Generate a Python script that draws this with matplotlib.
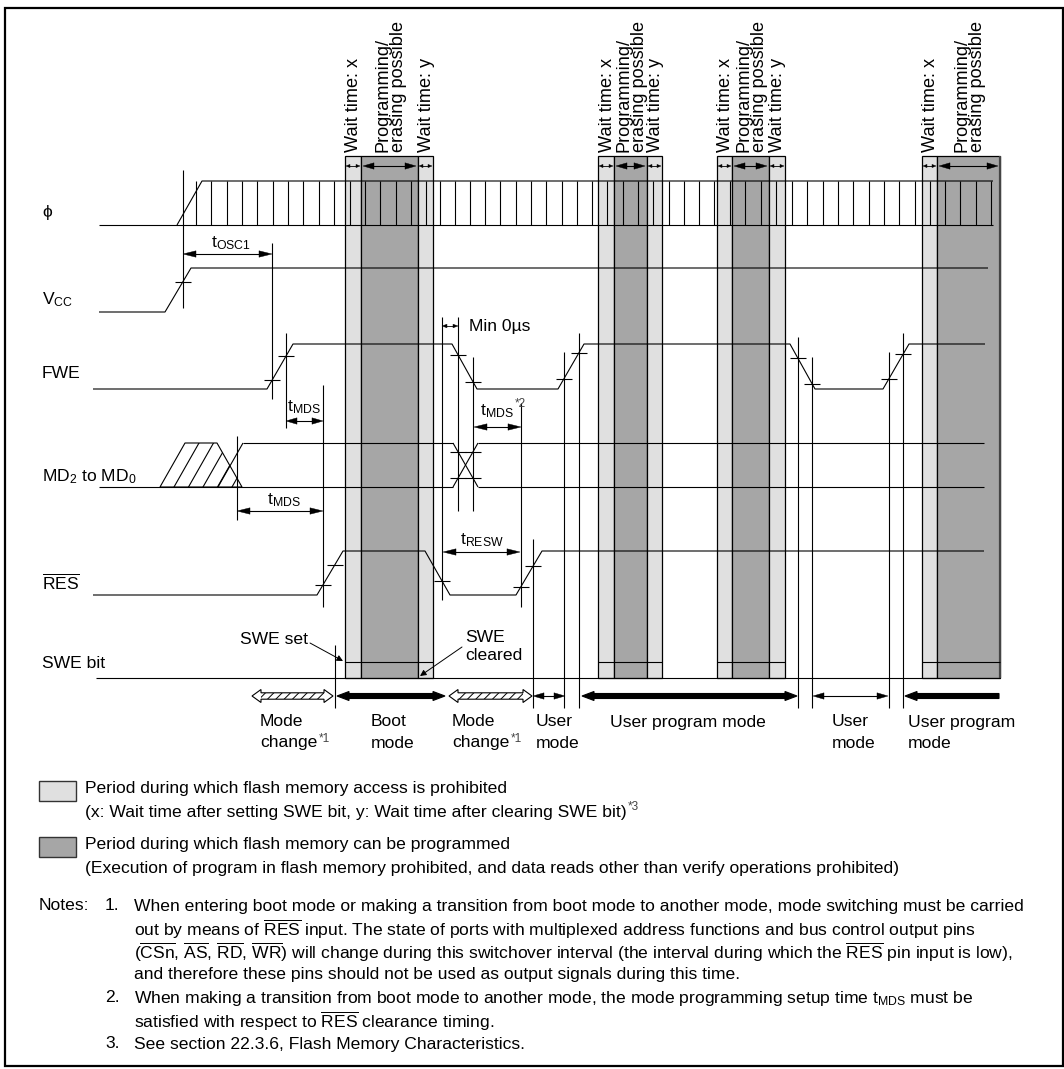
import numpy as np
import matplotlib.pyplot as plt
from matplotlib.patches import Rectangle, Polygon

plt.rcParams['font.family'] = ['Liberation Sans', 'DejaVu Sans']
plt.rcParams['mathtext.fontset'] = 'custom'
plt.rcParams['mathtext.rm'] = 'Liberation Sans'
plt.rcParams['mathtext.it'] = 'Liberation Sans:italic'
plt.rcParams['mathtext.bf'] = 'Liberation Sans:bold'
plt.rcParams['hatch.linewidth'] = 0.7

# ---------------- data (time axis in drawing units) ----------------
row_labels = ['ϕ', r'V$_{\mathrm{CC}}$', 'FWE', r'MD$_{2}$ to MD$_{0}$',
              r'$\overline{\mathrm{RES}}$', 'SWE bit']

phi_t = [99, 177, 202, 993]          # start, clock ramp start/end, end
phi_clock = [196, 211, 227, 242, 257, 273, 288, 303, 319, 334, 350, 365, 380,
             396, 411, 426, 440, 455, 470, 485, 500, 516, 531, 546, 562, 577,
             592, 607, 623, 638, 653, 669, 684, 699, 714, 730, 745, 761, 776,
             792, 807, 823, 838, 853, 869, 884, 899, 915, 930, 945, 960, 976, 991]

vcc_t = [99, 165, 191, 988]
vcc_v = [0, 0, 1, 1]

fwe_t = [93, 267, 293, 452, 477, 558, 584, 790, 815, 883, 909, 985]
fwe_v = [0, 0, 1, 1, 0, 0, 1, 1, 0, 0, 1, 1]

md_start, md_end = 99, 984
md_undef = [160, 185, 217, 242]      # undefined (hatched) window
md_valid = [218, 243]                # edge into valid state
md_switch = [453, 478]               # mode pins change

res_t = [93, 317, 343, 425, 450, 516, 542, 984]
res_v = [0, 0, 1, 1, 0, 0, 1, 1]

swe_t = [96, 1000]

# SWE windows: wait x start, programming start, programming end, wait y end
wait_x_on = [345, 598, 717, 922]
prog_on = [361, 614, 732, 937]
prog_off = [418, 647, 769, 1000]
wait_y_off = [433, 662, 785, None]

# timing guide lines: x, top, bottom
guide_x = [183, 272, 286, 323, 237, 335, 442, 458, 473, 521, 533, 564, 579, 798, 812, 889, 903]
guide_top = [170, 243, 333, 385, 436, 645, 317, 317, 357, 403, 539, 352, 333, 337, 357, 352, 333]
guide_bot = [308, 399, 428, 607, 520, 708, 600, 511, 511, 607, 708, 708, 708, 708, 708, 708, 708]

vcc_marks = [183]
fwe_marks = [272, 286, 458, 473, 564, 579, 798, 812, 889, 903]
res_marks = [323, 335, 442, 521, 533]
md_marks = [458, 473]

# mode bar: start, end, kind
mode_start = [252, 337, 449, 533, 582, 813, 905]
mode_end = [333, 445, 532, 565, 797, 888, 999]
mode_kind = ['change', 'boot', 'change', 'user', 'prog', 'user', 'prog_open']
mode_text1 = ['Mode', 'Boot', 'Mode', 'User', 'User program mode', 'User', 'User program']
mode_text2 = ['change', 'mode', 'change', 'mode', '', 'mode', 'mode']
mode_note = ['*1', '', '*1', '', '', '', '']

legend_text = [
    ['Period during which flash memory access is prohibited',
     '(x: Wait time after setting SWE bit, y: Wait time after clearing SWE bit)'],
    ['Period during which flash memory can be programmed',
     '(Execution of program in flash memory prohibited, and data reads other than verify operations prohibited)'],
]

notes_num = ['1.', '2.', '3.']
notes_lines = [
    ['When entering boot mode or making a transition from boot mode to another mode, mode switching must be carried',
     r'out by means of $\overline{\mathrm{RES}}$ input. The state of ports with multiplexed address functions and bus control output pins',
     r'($\overline{\mathrm{CSn}}$, $\overline{\mathrm{AS}}$, $\overline{\mathrm{RD}}$, $\overline{\mathrm{WR}}$) will change during this switchover interval (the interval during which the $\overline{\mathrm{RES}}$ pin input is low),',
     'and therefore these pins should not be used as output signals during this time.'],
    [r'When making a transition from boot mode to another mode, the mode programming setup time t$_{\mathrm{MDS}}$ must be',
     r'satisfied with respect to $\overline{\mathrm{RES}}$ clearance timing.'],
    ['See section 22.3.6, Flash Memory Characteristics.'],
]

# ---------------- layout ----------------
row_label_y = [213, 300, 373, 477, 582, 663]
row_high = [181, 268, 344, 443, 551, 662]
row_low = [225, 312, 389, 487, 595, 678]
band_top = 156
FS = 12.6
FS_ROT = 13.1
LW = 0.8
K = 'black'
LIGHT = '#e0e0e0'
DARK = '#a6a6a6'

fig = plt.figure(figsize=(10.64, 10.69), dpi=100)
ax = fig.add_axes([0, 0, 1, 1])
ax.set_xlim(0, 1064)
ax.set_ylim(1069, 0)
ax.axis('off')
renderer = fig.canvas.get_renderer()


def seg(xs, ys, lw=LW, z=3, color=K):
    ax.plot(xs, ys, color=color, lw=lw, solid_capstyle='butt', zorder=z)


def tri(xtip, y, direction, hl, hw, z=4):
    xb = xtip - direction * hl
    ax.add_patch(Polygon([(xtip, y), (xb, y - hw), (xb, y + hw)], closed=True,
                         fc=K, ec=K, lw=0.3, zorder=z))


def dim_arrow(x0, x1, y, hl=10, hw=3, lw=LW, left=True, right=True):
    seg([x0 + (hl * 0.8 if left else 0), x1 - (hl * 0.8 if right else 0)], [y, y], lw=lw, z=4)
    if left:
        tri(x0, y, -1, hl, hw)
    if right:
        tri(x1, y, 1, hl, hw)


def block_arrow(x0, x1, y, sh, hh, hl, left=True, right=True, fc=K, z=4):
    pts = []
    if left:
        pts += [(x0, y), (x0 + hl, y - hh), (x0 + hl, y - sh)]
    else:
        pts += [(x0, y + sh), (x0, y - sh)]
    if right:
        pts += [(x1 - hl, y - sh), (x1 - hl, y - hh), (x1, y), (x1 - hl, y + hh), (x1 - hl, y + sh)]
    else:
        pts += [(x1, y - sh), (x1, y + sh)]
    if left:
        pts += [(x0 + hl, y + sh), (x0 + hl, y + hh)]
    ax.add_patch(Polygon(pts, closed=True, fc=fc, ec=K, lw=0.8, zorder=z))


def sup_after(t, s, dy=3, size=8.5, color='#444444'):
    bb = t.get_window_extent(renderer=renderer)
    x, y = ax.transData.inverted().transform((bb.x1, bb.y1))
    ax.text(x + 1, y + dy, s, fontsize=size, color=color, ha='left', va='center', zorder=6)


def wave(ts, vs, row):
    ys = [row_high[row] if v else row_low[row] for v in vs]
    seg(ts, ys)
    return ys


# frame
ax.add_patch(Rectangle((5, 8), 1058, 1058, fc='none', ec=K, lw=1.6, zorder=10))

# SWE windows (bands)
for i in range(len(wait_x_on)):
    ax.add_patch(Rectangle((wait_x_on[i], band_top), prog_on[i] - wait_x_on[i],
                           row_low[5] - band_top, fc=LIGHT, ec=K, lw=0.9, zorder=1))
    ax.add_patch(Rectangle((prog_on[i], band_top), prog_off[i] - prog_on[i],
                           row_low[5] - band_top, fc=DARK, ec=K, lw=0.9, zorder=1))
    end = prog_off[i]
    if wait_y_off[i] is not None:
        ax.add_patch(Rectangle((prog_off[i], band_top), wait_y_off[i] - prog_off[i],
                               row_low[5] - band_top, fc=LIGHT, ec=K, lw=0.9, zorder=1))
        end = wait_y_off[i]
    else:
        seg([end, end], [band_top, row_low[5]], lw=1.6, color='#444444', z=2)
    # SWE high level across the window
    seg([wait_x_on[i], end], [row_high[5], row_high[5]])
    # period arrows at top of the window
    ya = band_top + 10
    dim_arrow(wait_x_on[i] + 1, prog_on[i] - 1, ya, hl=4, hw=1.6, lw=0.6)
    dim_arrow(prog_on[i] + 2, prog_off[i] - 2, ya, hl=11, hw=3.2)
    if wait_y_off[i] is not None:
        dim_arrow(prog_off[i] + 1, wait_y_off[i] - 1, ya, hl=4, hw=1.6, lw=0.6)
    # rotated labels
    ax.text((wait_x_on[i] + prog_on[i]) / 2 + 1, 152, 'Wait time: x', rotation=90,
            fontsize=FS_ROT, ha='center', va='bottom')
    ax.text((prog_on[i] + prog_off[i]) / 2 + 1, 152, 'Programming/\nerasing possible', rotation=90,
            fontsize=FS_ROT, ha='center', va='bottom', multialignment='left', linespacing=0.92)
    if wait_y_off[i] is not None:
        ax.text((prog_off[i] + wait_y_off[i]) / 2 + 1, 152, 'Wait time: y', rotation=90,
                fontsize=FS_ROT, ha='center', va='bottom')

# row labels
for lab, y in zip(row_labels, row_label_y):
    ax.text(42, y, lab, fontsize=FS, ha='left', va='center')

# phi clock
seg([phi_t[0], phi_t[-1]], [row_low[0], row_low[0]])
seg([phi_t[1], phi_t[2], phi_t[3]], [row_low[0], row_high[0], row_high[0]])
for x in phi_clock:
    seg([x, x], [row_high[0], row_low[0]])

# Vcc, FWE, RES
vcc_y = wave(vcc_t, vcc_v, 1)
fwe_y = wave(fwe_t, fwe_v, 2)
res_y = wave(res_t, res_v, 4)

# MD2..MD0 (bus)
hi, lo = row_high[3], row_low[3]
seg([md_start, md_switch[0]], [lo, lo])
seg([md_valid[1], md_switch[0]], [hi, hi])
seg([md_switch[1], md_end], [lo, lo])
seg([md_switch[1], md_end], [hi, hi])
seg(md_valid, [lo, hi])
seg(md_switch, [hi, lo])
seg(md_switch, [lo, hi])
und = Polygon([(md_undef[0], lo), (md_undef[1], hi), (md_undef[2], hi), (md_undef[3], lo)],
              closed=True, fc='none', ec=K, lw=LW, zorder=3)
ax.add_patch(und)
slope = (md_undef[1] - md_undef[0]) / (lo - hi)
for xb in np.arange(md_undef[0] + 14, md_undef[3] + 30, 14.5):
    ln, = ax.plot([xb, xb + slope * (lo - hi)], [lo, hi], color=K, lw=LW, zorder=3)
    ln.set_clip_path(und)

# SWE bit low level
seg(swe_t, [row_low[5], row_low[5]])

# guide lines
for x, t, b in zip(guide_x, guide_top, guide_bot):
    seg([x, x], [t, b])


# crossing marks
def mark(x, y, half=8):
    seg([x - half, x + half], [y, y])


for x in vcc_marks:
    mark(x, np.interp(x, vcc_t, vcc_y))
for x in fwe_marks:
    mark(x, np.interp(x, fwe_t, fwe_y))
for x in res_marks:
    mark(x, np.interp(x, res_t, res_y))
for x in md_marks:
    mark(x, np.interp(x, md_switch, [hi, lo]))
    mark(x, np.interp(x, md_switch, [lo, hi]))

# dimension arrows and labels
dim_arrow(183, 272, 254, hl=13, hw=3.2)
ax.text(231, 243, r't$_{\mathrm{OSC1}}$', fontsize=FS, ha='center', va='center')
dim_arrow(286, 323, 421, hl=11, hw=3.2)
ax.text(287, 407, r't$_{\mathrm{MDS}}$', fontsize=FS, ha='left', va='center')
dim_arrow(237, 323, 511, hl=13, hw=3.2)
ax.text(284, 500, r't$_{\mathrm{MDS}}$', fontsize=FS, ha='center', va='center')
dim_arrow(442, 458, 326, hl=5, hw=1.8, lw=0.6)
ax.text(469, 326, 'Min 0µs', fontsize=FS, ha='left', va='center')
dim_arrow(474, 521, 427, hl=13, hw=3.2)
t2 = ax.text(480, 411, r't$_{\mathrm{MDS}}$', fontsize=FS, ha='left', va='center')
sup_after(t2, '*2', dy=2)
dim_arrow(443, 520, 552, hl=13, hw=3.2)
ax.text(460, 540, r't$_{\mathrm{RESW}}$', fontsize=FS, ha='left', va='center')

# SWE set / cleared callouts
ax.text(308, 639, 'SWE set', fontsize=FS, ha='right', va='center')
ax.annotate('', xy=(343, 661), xytext=(310, 643),
            arrowprops=dict(arrowstyle='-|>', lw=0.7, color=K, mutation_scale=9,
                            shrinkA=0, shrinkB=0), zorder=5)
ax.text(465, 638, 'SWE', fontsize=FS, ha='left', va='center')
ax.text(465, 656, 'cleared', fontsize=FS, ha='left', va='center')
ax.annotate('', xy=(420, 676), xytext=(462, 647),
            arrowprops=dict(arrowstyle='-|>', lw=0.7, color=K, mutation_scale=9,
                            shrinkA=0, shrinkB=0), zorder=5)

# mode bar
ym = 696
for x0, x1, kind in zip(mode_start, mode_end, mode_kind):
    if kind == 'change':
        block_arrow(x0, x1, ym, 3.2, 6.5, 9, fc='white')
        ax.add_patch(Rectangle((x0 + 9, ym - 3.2), x1 - x0 - 18, 6.4, fc='none', ec=K,
                               lw=0, hatch='////', zorder=5))
    elif kind == 'user':
        dim_arrow(x0, x1, ym, hl=11, hw=3.2)
    elif kind == 'boot' or kind == 'prog':
        block_arrow(x0, x1, ym, 2.5, 4.5, 12)
    else:
        block_arrow(x0, x1, ym, 2.5, 4.5, 12, right=False)

mode_x = [260, 371, 452, 536, 610, 832, 908]
for x, a, b, n in zip(mode_x, mode_text1, mode_text2, mode_note):
    ax.text(x, 722, a, fontsize=FS, ha='left', va='center')
    if b:
        tb = ax.text(x, 743, b, fontsize=FS, ha='left', va='center')
        if n:
            sup_after(tb, n, dy=3)

# legend
legend_y = [781, 837]
legend_color = [LIGHT, DARK]
for y, c, lines in zip(legend_y, legend_color, legend_text):
    ax.add_patch(Rectangle((39, y), 37, 20, fc=c, ec='#333333', lw=1.0))
    ax.text(85, y + 8, lines[0], fontsize=FS, ha='left', va='center')
    tl = ax.text(85, y + 31, lines[1], fontsize=FS, ha='left', va='center')
    if c == LIGHT:
        sup_after(tl, '*3', dy=2)

# notes
ax.text(39, 906, 'Notes:', fontsize=FS, ha='left', va='center')
yn = 906
for num, lines in zip(notes_num, notes_lines):
    ax.text(105, yn, num, fontsize=FS, ha='left', va='center')
    for line in lines:
        ax.text(134, yn, line, fontsize=FS, ha='left', va='center')
        yn += 23

fig.savefig('out.png', dpi=100)
